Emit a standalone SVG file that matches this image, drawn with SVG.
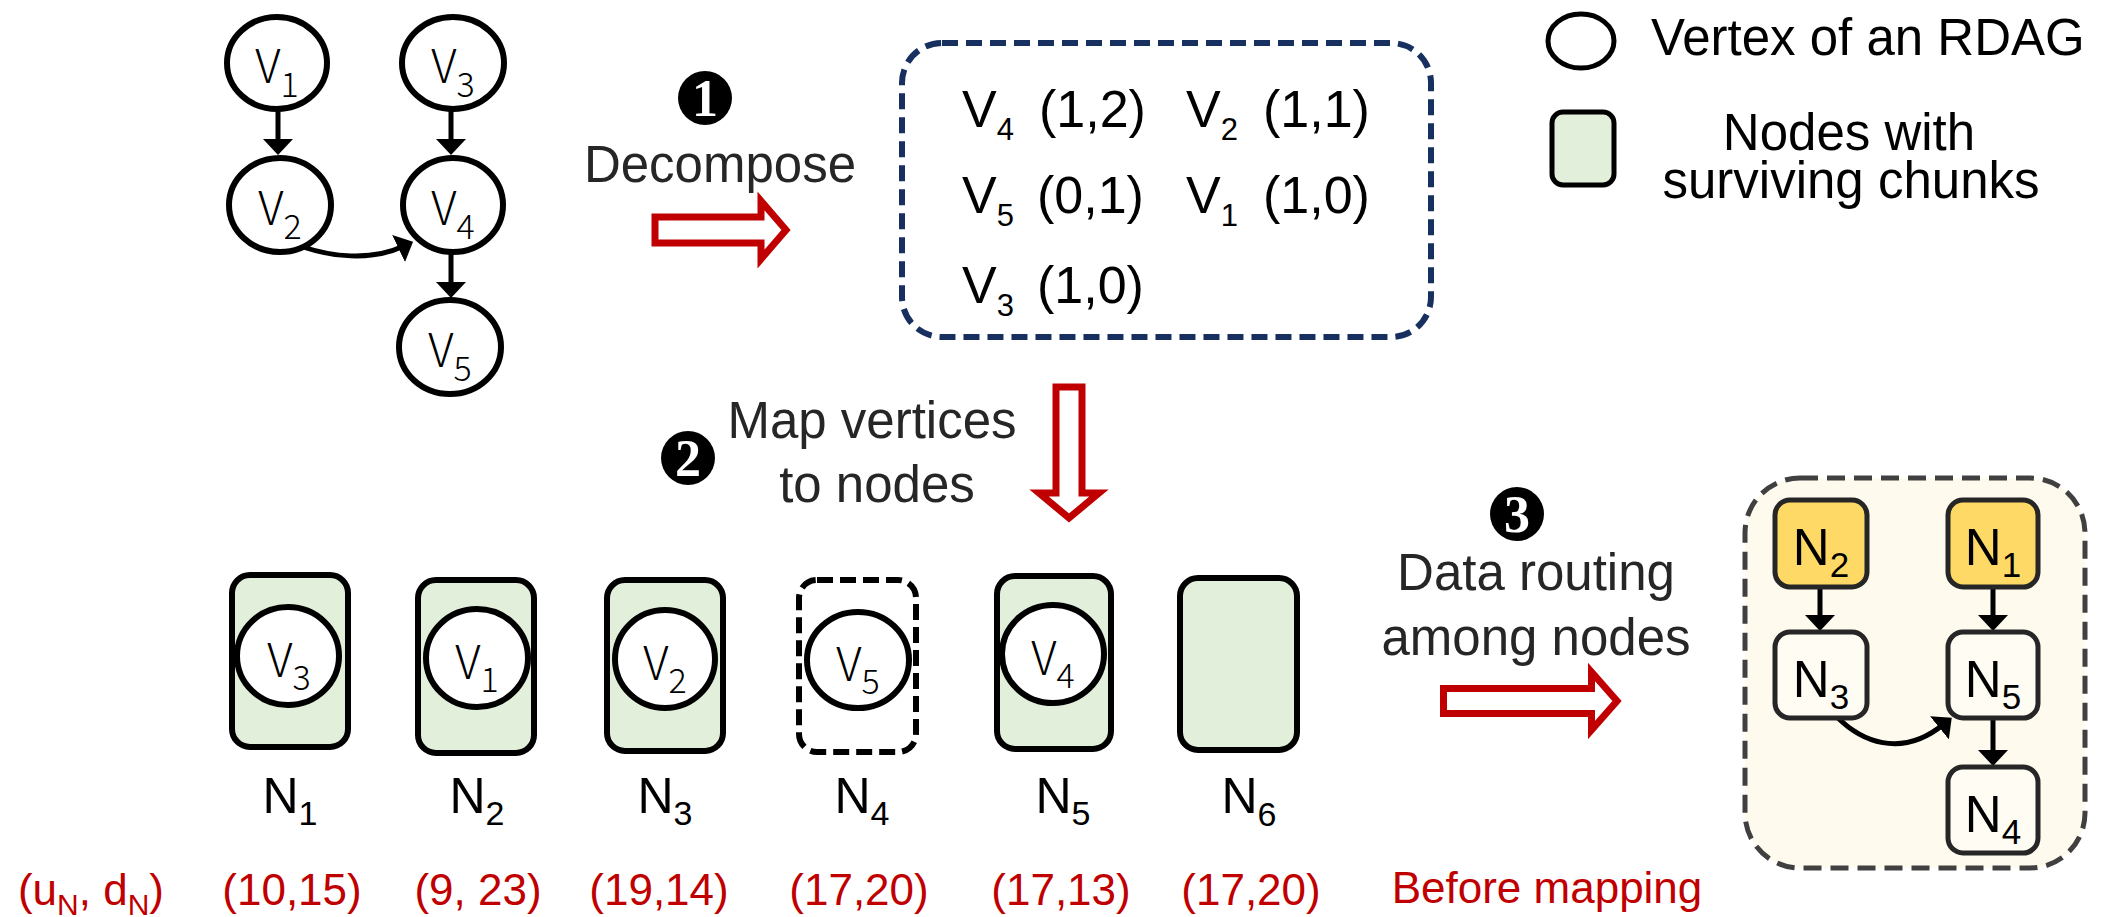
<svg xmlns="http://www.w3.org/2000/svg" width="2118" height="917" viewBox="0 0 2118 917">
  <style>
    .vtx { fill: #ffffff; stroke: #000000; stroke-width: 6; }
    .vlab { font-family: "Noto Sans CJK SC", "Noto Sans", sans-serif; font-weight: 300; font-size: 46px; fill: #000000; text-anchor: middle; }
    .vsub { font-size: 34px; }
    .lbl { font-family: "Liberation Sans", Arial, sans-serif; font-size: 51px; fill: #262626; text-anchor: middle; }
    .tbl { font-family: "Liberation Sans", Arial, sans-serif; font-size: 52px; fill: #000000; }
    .tsub { font-size: 31px; }
    .nlab { font-family: "Liberation Sans", Arial, sans-serif; font-size: 50px; fill: #000000; text-anchor: middle; }
    .nsub { font-size: 34px; }
    .red { font-family: "Liberation Sans", Arial, sans-serif; font-size: 44px; fill: #C00000; text-anchor: middle; }
    .node { fill: #E2EFDA; stroke: #000000; stroke-width: 6; }
    .node-empty { fill: #ffffff; stroke: #000000; stroke-width: 6; stroke-dasharray: 16 7; }
    .edge { fill: none; stroke: #000000; stroke-width: 5; }
    .bigarrow { fill: #ffffff; stroke: #C00000; stroke-width: 7; stroke-linejoin: miter; }
    .step { fill: #000000; }
    .stepnum { font-family: "Liberation Serif", "Times New Roman", serif; font-weight: bold; font-size: 52px; fill: #ffffff; text-anchor: middle; }
    .rnode { stroke: #262626; stroke-width: 5; }
    .rlab { font-family: "Liberation Sans", Arial, sans-serif; font-size: 51px; fill: #000000; text-anchor: middle; }
    .rsub { font-size: 35px; }
  </style>
  <defs>
    <marker id="head" viewBox="0 0 16 30" markerWidth="16" markerHeight="30" refX="6" refY="15" orient="auto" markerUnits="userSpaceOnUse">
      <path d="M0,0 L16,15 L0,30 Z" fill="#000000"/>
    </marker>
  </defs>

  <!-- Routing graph frame (behind its connectors) -->
  <g id="routing-box">
    <rect x="1745" y="478" width="340" height="390" rx="55" fill="#FEFAEE" stroke="#404040" stroke-width="5" stroke-dasharray="18 9"/>
  </g>

  <!-- RDAG vertices -->
  <g id="v1">
    <ellipse class="vtx" cx="277" cy="63" rx="50" ry="46"/>
    <text class="vlab" x="277" y="83">V<tspan class="vsub" dy="14">1</tspan></text>
  </g>
  <g id="v2">
    <ellipse class="vtx" cx="280" cy="205" rx="51" ry="47"/>
    <text class="vlab" x="280" y="225">V<tspan class="vsub" dy="14">2</tspan></text>
  </g>
  <g id="v3">
    <ellipse class="vtx" cx="453" cy="63" rx="51" ry="46"/>
    <text class="vlab" x="453" y="83">V<tspan class="vsub" dy="14">3</tspan></text>
  </g>
  <g id="v4">
    <ellipse class="vtx" cx="453" cy="205" rx="50" ry="47"/>
    <text class="vlab" x="453" y="225">V<tspan class="vsub" dy="14">4</tspan></text>
  </g>
  <g id="v5">
    <ellipse class="vtx" cx="450" cy="347" rx="51" ry="47"/>
    <text class="vlab" x="450" y="367">V<tspan class="vsub" dy="14">5</tspan></text>
  </g>

  <!-- Connectors -->
  <g id="connectors">
    <line class="edge" x1="278" y1="110" x2="278" y2="145" marker-end="url(#head)"/>
    <line class="edge" x1="451" y1="110" x2="451" y2="145" marker-end="url(#head)"/>
    <line class="edge" x1="451" y1="253" x2="451" y2="288" marker-end="url(#head)"/>
    <path class="edge" d="M303,247 C330,256 370,262 404,246" marker-end="url(#head)"/>
    <line class="edge" x1="1820" y1="587" x2="1820" y2="621" marker-end="url(#head)"/>
    <line class="edge" x1="1993" y1="587" x2="1993" y2="621" marker-end="url(#head)"/>
    <line class="edge" x1="1993" y1="718" x2="1993" y2="756" marker-end="url(#head)"/>
    <path class="edge" d="M1837,717 C1860,740 1900,760 1944,724" marker-end="url(#head)"/>
  </g>

  <!-- Step 1: decompose -->
  <g id="step1">
    <circle class="step" cx="705" cy="98" r="27"/>
    <text class="stepnum" x="705" y="116">1</text>
    <text class="lbl" x="720" y="182">Decompose</text>
    <path class="bigarrow" d="M655,217 L761,217 L761,201 L786,230 L761,259 L761,243 L655,243 Z"/>
  </g>

  <!-- Decomposed vertex table -->
  <g id="vertex-table">
    <rect x="902" y="43" width="529" height="294" rx="40" fill="none" stroke="#17305F" stroke-width="6" stroke-dasharray="16 8"/>
    <text class="tbl" x="962" y="127">V<tspan class="tsub" dy="13">4</tspan></text>
    <text class="tbl" x="1039" y="127">(1,2)</text>
    <text class="tbl" x="1186" y="127">V<tspan class="tsub" dy="13">2</tspan></text>
    <text class="tbl" x="1263" y="127">(1,1)</text>
    <text class="tbl" x="962" y="213">V<tspan class="tsub" dy="13">5</tspan></text>
    <text class="tbl" x="1037" y="213">(0,1)</text>
    <text class="tbl" x="1186" y="213">V<tspan class="tsub" dy="13">1</tspan></text>
    <text class="tbl" x="1263" y="213">(1,0)</text>
    <text class="tbl" x="962" y="303">V<tspan class="tsub" dy="13">3</tspan></text>
    <text class="tbl" x="1037" y="303">(1,0)</text>
  </g>

  <!-- Legend -->
  <g id="legend">
    <ellipse cx="1581" cy="41" rx="33" ry="27" fill="#ffffff" stroke="#000000" stroke-width="5"/>
    <text x="1651" y="55" font-family="Liberation Sans, Arial, sans-serif" font-size="51" fill="#000000">Vertex of an RDAG</text>
    <rect x="1552" y="112" width="62" height="73" rx="11" fill="#E2EFDA" stroke="#000000" stroke-width="5"/>
    <text x="1849" y="150" font-family="Liberation Sans, Arial, sans-serif" font-size="51" fill="#000000" text-anchor="middle">Nodes with</text>
    <text x="1851" y="198" font-family="Liberation Sans, Arial, sans-serif" font-size="51" fill="#000000" text-anchor="middle">surviving chunks</text>
  </g>

  <!-- Step 2: map vertices -->
  <g id="step2">
    <circle class="step" cx="688" cy="458" r="27"/>
    <text class="stepnum" x="688" y="476">2</text>
    <text class="lbl" x="872" y="438">Map vertices</text>
    <text class="lbl" x="877" y="502">to nodes</text>
    <path class="bigarrow" d="M1056,387 L1082,387 L1082,493 L1099,493 L1069,518 L1039,493 L1056,493 Z"/>
  </g>

  <!-- Storage nodes -->
  <g id="n1">
    <rect class="node" x="232" y="575" width="116" height="172" rx="18"/>
    <ellipse class="vtx" cx="288" cy="656" rx="51" ry="49"/>
    <text class="vlab" x="289" y="677">V<tspan class="vsub" dy="13">3</tspan></text>
    <text class="nlab" x="290" y="813">N<tspan class="nsub" dy="12">1</tspan></text>
  </g>
  <g id="n2">
    <rect class="node" x="418" y="580" width="116" height="173" rx="18"/>
    <ellipse class="vtx" cx="477" cy="658" rx="51" ry="49"/>
    <text class="vlab" x="477" y="679">V<tspan class="vsub" dy="13">1</tspan></text>
    <text class="nlab" x="477" y="813">N<tspan class="nsub" dy="12">2</tspan></text>
  </g>
  <g id="n3">
    <rect class="node" x="607" y="580" width="116" height="171" rx="18"/>
    <ellipse class="vtx" cx="665" cy="659" rx="50" ry="49"/>
    <text class="vlab" x="665" y="680">V<tspan class="vsub" dy="13">2</tspan></text>
    <text class="nlab" x="665" y="813">N<tspan class="nsub" dy="12">3</tspan></text>
  </g>
  <g id="n4">
    <rect class="node-empty" x="799" y="580" width="117" height="172" rx="18"/>
    <ellipse class="vtx" cx="858" cy="660" rx="51" ry="48"/>
    <text class="vlab" x="858" y="681">V<tspan class="vsub" dy="13">5</tspan></text>
    <text class="nlab" x="862" y="813">N<tspan class="nsub" dy="12">4</tspan></text>
  </g>
  <g id="n5">
    <rect class="node" x="997" y="576" width="114" height="173" rx="18"/>
    <ellipse class="vtx" cx="1053" cy="654" rx="51" ry="49"/>
    <text class="vlab" x="1053" y="675">V<tspan class="vsub" dy="13">4</tspan></text>
    <text class="nlab" x="1063" y="813">N<tspan class="nsub" dy="12">5</tspan></text>
  </g>
  <g id="n6">
    <rect class="node" x="1180" y="578" width="117" height="172" rx="18"/>
    <text class="nlab" x="1249" y="813">N<tspan class="nsub" dy="13">6</tspan></text>
  </g>

  <!-- Node capacities -->
  <g id="capacities">
    <text class="red" x="91" y="905">(u<tspan font-size="30" dy="10">N</tspan><tspan dy="-10">, d</tspan><tspan font-size="30" dy="10">N</tspan><tspan dy="-10">)</tspan></text>
    <text class="red" x="292" y="905">(10,15)</text>
    <text class="red" x="478" y="905">(9, 23)</text>
    <text class="red" x="659" y="905">(19,14)</text>
    <text class="red" x="859" y="905">(17,20)</text>
    <text class="red" x="1061" y="905">(17,13)</text>
    <text class="red" x="1251" y="905">(17,20)</text>
    <text class="red" x="1547" y="903">Before mapping</text>
  </g>

  <!-- Step 3: data routing -->
  <g id="step3">
    <circle class="step" cx="1517" cy="514" r="27"/>
    <text class="stepnum" x="1517" y="532">3</text>
    <text class="lbl" x="1536" y="590">Data routing</text>
    <text class="lbl" x="1536" y="655">among nodes</text>
    <path class="bigarrow" d="M1443.5,688.5 L1591.5,688.5 L1591.5,672 L1617,701 L1591.5,730 L1591.5,713.5 L1443.5,713.5 Z"/>
  </g>

  <!-- Routing graph nodes -->
  <g id="r-n2">
    <rect class="rnode" x="1775" y="500" width="92" height="87" rx="15" fill="#FFD966"/>
    <text class="rlab" x="1821" y="565">N<tspan class="rsub" dy="12">2</tspan></text>
  </g>
  <g id="r-n1">
    <rect class="rnode" x="1948" y="500" width="90" height="87" rx="15" fill="#FFD966"/>
    <text class="rlab" x="1993" y="565">N<tspan class="rsub" dy="12">1</tspan></text>
  </g>
  <g id="r-n3">
    <rect class="rnode" x="1775" y="632" width="92" height="86" rx="15" fill="#FFFCF3"/>
    <text class="rlab" x="1821" y="697">N<tspan class="rsub" dy="12">3</tspan></text>
  </g>
  <g id="r-n5">
    <rect class="rnode" x="1948" y="632" width="90" height="86" rx="15" fill="#FFFCF3"/>
    <text class="rlab" x="1993" y="697">N<tspan class="rsub" dy="12">5</tspan></text>
  </g>
  <g id="r-n4">
    <rect class="rnode" x="1948" y="767" width="90" height="86" rx="15" fill="#FFFCF3"/>
    <text class="rlab" x="1993" y="832">N<tspan class="rsub" dy="12">4</tspan></text>
  </g>
</svg>
